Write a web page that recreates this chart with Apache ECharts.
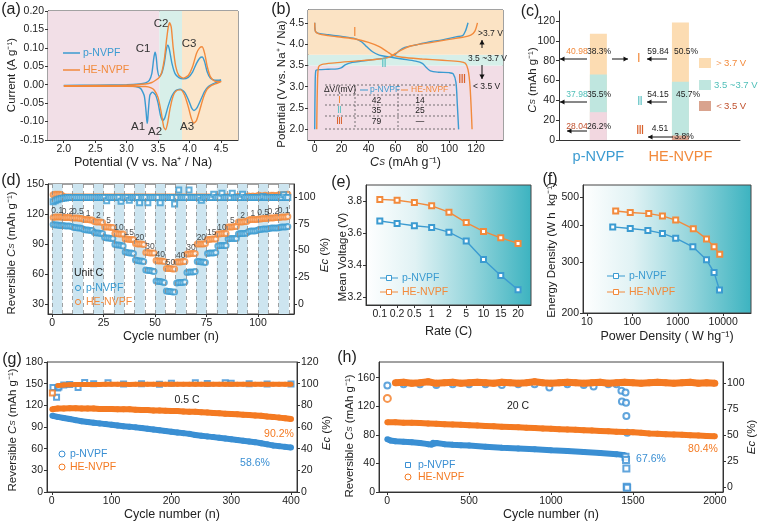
<!DOCTYPE html>
<html><head><meta charset="utf-8">
<script src="https://cdn.jsdelivr.net/npm/echarts@6/dist/echarts.min.js"></script>
<style>html,body{margin:0;padding:0;background:#fff}#c{width:760px;height:522px}</style>
</head><body><div id="c"></div>
<script>
// ================= DATA =================
// (a) cyclic voltammetry: [potential V, current A/g], anodic then cathodic branch
const cvP = [[2.00,-0.002],[2.50,-0.001],[3.00,0.000],[3.20,0.002],[3.30,0.005],[3.36,0.012],[3.40,0.030],[3.43,0.070],[3.45,0.088],[3.47,0.075],[3.49,0.040],[3.52,0.022],[3.56,0.032],[3.60,0.060],[3.63,0.095],[3.655,0.107],[3.68,0.095],[3.72,0.058],[3.77,0.030],[3.83,0.019],[3.90,0.016],[3.98,0.020],[4.05,0.035],[4.11,0.058],[4.16,0.072],[4.20,0.075],[4.24,0.062],[4.28,0.035],[4.33,0.018],[4.40,0.012],[4.50,0.013],
  [4.45,0.008],[4.38,0.003],[4.30,-0.005],[4.24,-0.018],[4.18,-0.040],[4.12,-0.062],[4.07,-0.070],[4.03,-0.062],[3.98,-0.040],[3.92,-0.020],[3.85,-0.012],[3.78,-0.016],[3.72,-0.030],[3.66,-0.058],[3.61,-0.088],[3.575,-0.097],[3.54,-0.085],[3.50,-0.050],[3.46,-0.028],[3.41,-0.020],[3.37,-0.028],[3.35,-0.060],[3.335,-0.095],[3.325,-0.105],[3.31,-0.075],[3.28,-0.030],[3.22,-0.010],[3.10,-0.004],[2.80,-0.003],[2.00,-0.003]];
const cvHE = [[2.00,-0.003],[2.50,-0.002],[3.00,-0.001],[3.30,0.002],[3.40,0.006],[3.46,0.012],[3.52,0.020],[3.56,0.035],[3.60,0.070],[3.63,0.115],[3.66,0.155],[3.685,0.168],[3.71,0.155],[3.74,0.100],[3.78,0.050],[3.83,0.025],[3.90,0.018],[3.98,0.025],[4.05,0.050],[4.11,0.085],[4.16,0.100],[4.20,0.103],[4.24,0.085],[4.28,0.050],[4.33,0.022],[4.40,0.010],[4.50,0.008],
  [4.42,0.003],[4.35,-0.002],[4.28,-0.012],[4.22,-0.035],[4.16,-0.070],[4.11,-0.097],[4.07,-0.104],[4.03,-0.092],[3.98,-0.060],[3.92,-0.028],[3.86,-0.014],[3.80,-0.015],[3.74,-0.030],[3.69,-0.065],[3.65,-0.105],[3.62,-0.122],[3.59,-0.115],[3.55,-0.075],[3.50,-0.035],[3.44,-0.015],[3.38,-0.008],[3.30,-0.005],[3.00,-0.004],[2.50,-0.004],[2.00,-0.004]];

// (b) charge / discharge profiles: [capacity mAh/g, potential V]
const bChgP = [[0,2.0],[0.3,3.0],[0.8,3.38],[3,3.40],[10,3.41],[17,3.42],[20,3.45],[23,3.52],[28,3.57],[35,3.60],[42,3.63],[50,3.66],[56,3.70],[60,3.76],[63,3.85],[67,3.92],[75,3.98],[85,4.05],[95,4.10],[105,4.17],[110,4.20],[112,4.30],[114,4.50]];
const bDisP = [[0,4.5],[0.5,4.30],[3,4.25],[10,4.22],[20,4.18],[30,4.13],[35,4.05],[39,3.93],[43,3.82],[48,3.74],[55,3.70],[65,3.65],[75,3.60],[80,3.55],[83,3.45],[86,3.37],[92,3.34],[100,3.33],[103,3.30],[105,3.10],[106,2.6],[107,2.0]];
const bChgHE = [[1.5,2.0],[2,3.0],[2.8,3.46],[5,3.52],[15,3.56],[30,3.60],[45,3.64],[55,3.69],[60,3.78],[65,3.87],[72,3.96],[85,4.03],[100,4.11],[110,4.16],[116,4.21],[119,4.30],[121,4.50]];
const bDisHE = [[0,4.5],[0.5,4.30],[3,4.24],[10,4.20],[20,4.16],[30,4.12],[40,4.04],[48,3.94],[54,3.82],[58,3.74],[65,3.69],[80,3.65],[95,3.62],[108,3.59],[112,3.55],[114,3.40],[115.5,3.0],[117,2.0]];
const bTableRows = [['Ⅰ','42','14'],['Ⅱ','35','25'],['Ⅲ','79','—']];

// (c) capacity contributions
const cSamples = ['p-NVPF','HE-NVPF'];
const cLow  = [28.04, 4.51];
const cMid  = [37.98, 54.15];
const cHigh = [40.98, 59.84];
const cPctLow  = ['26.2%','3.8%'];
const cPctMid  = ['35.5%','45.7%'];
const cPctHigh = ['38.3%','50.5%'];

// (d) rate capability (5 cycles per rate)
const dRates = ['0.1','0.2','0.5','1','2','5','10','15','20','30','40','50','40','30','20','15','10','5','2','1','0.5','0.2','0.1'];
const dCapP = [109.5,109,109,108.5,108.5, 108.5,108,108,108,107.5, 106.5,106.5,106,106,105.5, 104.5,104,104,103.5,103.5, 101.5,101,101,100.5,100.5,
  96.5,96,96,95.5,95.5, 89.5,89,89,88.5,88, 82,81.5,81,81,80.5, 74,73.5,73,73,72.5, 64,63.5,63.5,63,62.5, 53,52.5,52.5,52,51.5, 43,42.5,42.5,42,42,
  51,51.5,51.5,51.5,52, 61.5,62,62,62,62.5, 72.5,72.5,72,72,71.5, 80.5,81,81,81,81.5, 88,88.5,88.5,88.5,88.5, 95,95.5,95.5,95.5,95.5,
  100,100.5,100.5,100.5,101, 102.5,103,103,103,103.5, 104.5,104.5,105,105,105, 105.5,106,106,106,106, 106.5,107,107,107,107.5];
const dCapHE = [116.5,117,117,117,117, 116.5,116.5,116.5,116.5,116, 116,116,116,115.5,115.5, 114.5,114.5,114.5,114,114, 112.5,112,112,112,111.5,
  107,107,107,106.5,106.5, 100.5,100.5,100,100,100, 95,95,94.5,94.5,94.5, 90.5,90,90,90,89.5, 81.5,81.5,81,81,81, 73.5,73,73,73,72.5, 65.5,65.5,65.5,65,65,
  72,72,72,72.5,72.5, 80,80,80.5,80.5,80.5, 90,90,90,90,90.5, 94.5,94.5,95,95,95, 100,100,100.5,100.5,100.5, 107,107,107,107.5,107.5,
  112,112,112,112.5,112.5, 114,114.5,114.5,114.5,114.5, 115,115,115.5,115.5,115.5, 116,116,116,116.5,116.5, 116.5,117,117,117,117.5];
const dCeP = [95.5,96.5,97.5,98,98.5, 99,99,99.5,99.5,99.5, 99.5,99.5,99.5,99.5,99.5, 99.5,99.5,99.5,99.5,99.5, 99.5,99.5,99.5,99.5,99.5,
  99.5,96.5,99.5,99.5,99.5, 99.5,99.5,99.5,96,99.5, 99.5,99.5,97,99.5,99.5, 99.5,99.5,94.5,99.5,99.5, 99.5,94.5,99.5,99.5,99.5, 99.5,99.5,94.5,99.5,99.5, 99.5,99.5,99.5,99.5,93.5,
  99.5,106.5,99.5,99.5,99.5, 99.5,106.5,99.5,99.5,99.5, 99.5,99.5,97,99.5,99.5, 99.5,99.5,99.5,102.5,99.5, 99.5,99.5,103.5,99.5,99.5, 99.5,99.5,103.5,99.5,99.5,
  99.5,99.5,102.5,99.5,99.5, 99.5,99.5,99.5,99.5,99.5, 99.5,99.5,100.5,99.5,99.5, 99.5,99.5,99.5,99.5,99.5, 99.5,99.5,102,99.5,99.5];
const dCeHE = [102,102.5,102.5,102.5,102, 100.5,100,100,100,100, 100,100,100,100,100, 100,100,100,100,100, 100,100,100,100,100,
  100,100,100,100,100, 100,100,100,100,100, 100,100,100,100,100, 100,100,100,100,100, 100,100,100,100,100, 100,100,100,100,100, 100,100,100,100,100,
  100,100,100,100,100, 100,100,100,100,100, 100,100,100,100,100, 100,100,100,100,100, 100,100,100,100,100, 100,100,100,100,100,
  100.5,100,100,100.5,100, 101,100.5,101,100.5,101, 101.5,101,101,101.5,101, 101,101.5,101.5,101,101.5, 102,101.5,102,102,102.5];

// (e) mean voltage vs rate
const eRates = ['0.1','0.2','0.5','1','2','5','10','15','20'];
const eVP  = [3.675,3.660,3.645,3.635,3.605,3.550,3.435,3.335,3.245];
const eVHE = [3.810,3.805,3.790,3.770,3.730,3.665,3.610,3.570,3.535];

// (f) Ragone: power density (W/kg), energy density (Wh/kg)
const fPowP = [37,90,220,460,900,2150,4300,6300,8300];
const fEnP  = [396,391,385,376,362,338,305,276,240];
const fPowHE = [43,90,230,460,900,2200,4300,6300,8400];
const fEnHE  = [449,444,440,432,418,390,360,338,319];

// (g) long cycling at 0.5 C
const gCyc = [1,10,20,30,40,50,60,70,80,90,100,110,120,130,140,150,160,170,180,190,200,210,220,230,240,250,260,270,280,290,300,310,320,330,340,350,360,370,380,390,400];
const gCapHE = [114.5,115.5,115.5,116,116,115.5,115.5,115.5,115,115,115,114.5,114.5,114.5,114,113.5,113.5,113,113,112.5,112,112,111.5,111,111,110.5,110,109.5,109,108.5,108,107.5,107,106.5,106,105.5,104.5,104,103,102,101];
const gCapP = [105.5,104,102.5,101,99.5,98,97,96,95,94,93,92,91,90.5,89.5,88.5,87.5,86.5,85.5,84.5,83.5,82.5,81.5,80.5,79,78,77,76,75,74,73,72,71,70,69,67.5,66,64.5,63.5,62.5,61.5];
const gCeHE = [91.5,98.2,98.8,99,99.2,99.2,99.3,99.3,99.3,99.4,99.4,99.4,99.4,99.3,99.4,99.4,99.4,99.5,99.4,99.4,99.5,99.4,99.4,99.5,99.5,99.4,99.4,99.5,99.5,99.4,99.5,99.5,99.4,99.5,99.5,99.5,99.4,99.5,99.5,99.5,99.5];
const gCeP = [[2,96.5],[8,87.5],[10,96],[12,97],[20,98.8],[30,99.2],[44,96.5],[55,101],[70,100],[94,100.8],[120,99.8],[150,100],[180,99.5],[200,100.3],[240,100.8],[260,100.2],[290,100.8],[300,100.5],[330,100],[360,99.6],[400,99.8]];

// (h) long cycling at 20 C
const hCyc = [1,50,100,150,200,250,300,350,400,450,500,550,600,650,700,750,800,850,900,950,1000,1050,1100,1150,1200,1250,1300,1350,1400,1450,1500,1550,1600,1650,1700,1750,1800,1850,1900,1950,2000];
const hCapHE = [97.5,97.5,97,97,96.5,96,95.5,95,94.5,94,93.5,93,92.5,92,91.5,91,90.5,90,89.5,89,88.5,88,87.5,87,86.5,86,85.5,85,84.5,84,83.5,83,82,81.5,81,80.5,80,79.5,79,78.5,78];
const hCeHE = [85,100,100.5,99.5,100,101,99.5,100,100.5,99.5, 100,100.5,100,99.5,100.5,100,99.5,100,101,100, 99.5,100,100.5,100,99.5,100,100.5,99.5,100,100.5, 100,99.5,100,100.5,100,99.5,100,100.5,99.5,100, 99.5];
const hCapP = [[1,74],[20,72],[50,71],[100,70.5],[150,69.5],[200,68.5],[250,67],[270,66.5],[280,69],[300,68.5],[350,67],[400,66],[450,65.5],[500,65],[600,63.5],[700,62],[800,61],[900,60],[1000,58.5],[1100,57.5],[1200,56],[1300,54.5],[1400,53],[1450,51.5]];
const hCapPFail = [[1455,49.5],[1458,44.8],[1460,33],[1462,7.4],[1465,6]];
const hCeP = [[1,97.5],[100,98.5],[200,98.5],[300,98],[400,98.5],[500,98.5],[600,98.5],[700,98],[800,98.5],[900,98.5],[990,95.5],[1100,98.5],[1200,98],[1260,96.5],[1350,98.5],[1400,98.5],[1430,92.3],[1433,82],[1455,90.7],[1458,80.8],[1460,68],[1465,52]];

// ================= STYLE =================
const F = '"Liberation Sans Narrow", "Liberation Sans", Arial, sans-serif';
const FR = '"Liberation Sans", Arial, sans-serif';
const BLUE = '#3b9bd1', ORANGE = '#f28a3c', BLUE2 = '#3a8fd3', ORANGE2 = '#f47a22';
const CYANT = '#4fbfb8', BROWN = '#c0502d';

function merge(a,b){ const o=Object.assign({},a); for(const k in b){ if(b[k]&&typeof b[k]==='object'&&!Array.isArray(b[k])&&a[k]&&typeof a[k]==='object') o[k]=merge(a[k],b[k]); else o[k]=b[k]; } return o; }
function axis(grid, extra){
  return merge({
    gridIndex:grid, type:'value',
    axisLine:{show:true,onZero:false,lineStyle:{color:'#333',width:1}},
    axisTick:{show:true,inside:false,length:3,lineStyle:{color:'#333'}},
    axisLabel:{fontSize:10.5,color:'#222',fontFamily:F,margin:4},
    splitLine:{show:false},
    nameLocation:'middle',
    nameTextStyle:{fontSize:12.5,color:'#222',fontFamily:F}
  }, extra);
}
const plain = v=>String(v);
function ticks(vals, fmt){ return {axisLabel:{customValues:vals, formatter:fmt||plain}, axisTick:{customValues:vals}}; }
const GRAD = {type:'linear',x:0,y:0,x2:1,y2:0,colorStops:[{offset:0,color:'#ffffff'},{offset:0.3,color:'#e0f2f4'},{offset:0.65,color:'#92d4db'},{offset:1,color:'#3cb3c0'}]};

const grids = [
  {left:48, top:11, width:190, height:129},
  {left:308, top:10, width:195, height:130},
  {left:559, top:11, width:181, height:129, show:false},
  {left:48, top:184, width:246, height:130},
  {left:366, top:185, width:165, height:120, backgroundColor:GRAD},
  {left:583, top:185, width:168, height:128, backgroundColor:GRAD},
  {left:47, top:362, width:250, height:130},
  {left:379, top:362, width:344, height:130}
].map(g=>Object.assign({show:true,borderColor:'#444',borderWidth:1}, g));

const xAxes = [
  axis(0, merge({min:1.75,max:4.77,name:'Potential (V vs. Na⁺ / Na)',nameGap:14}, ticks([2,2.5,3,3.5,4,4.5], v=>v.toFixed(1)))),
  axis(1, merge({min:-5,max:140,name:'{i|C}{s|S} (mAh g⁻¹)',nameGap:14,nameTextStyle:{rich:{i:{fontStyle:'italic',fontSize:12.5,fontFamily:F,color:'#222'},s:{fontStyle:'italic',fontSize:8.5,fontFamily:F,color:'#222'}}}}, ticks([0,20,40,60,80,100,120]))),
  axis(2, merge({min:-0.48,max:1.726,axisTick:{show:false}}, {axisLabel:{customValues:[0,1],margin:9,formatter:v=>v<0.5?'{p|'+cSamples[0]+'}':'{h|'+cSamples[1]+'}',rich:{p:{color:BLUE,fontSize:14.5,fontFamily:F},h:{color:ORANGE,fontSize:14.5,fontFamily:F}}}})),
  axis(3, merge({min:-2,max:117.5,name:'Cycle number (n)',nameGap:13}, ticks([0,25,50,75,100]))),
  axis(4, merge({min:-0.8,max:8.75,name:'Rate (C)',nameGap:20}, ticks([0,1,2,3,4,5,6,7,8], v=>eRates[Math.round(v)]))),
  axis(5, merge({type:'log',logBase:10,min:8.2,max:41000,name:'Power Density ( W hg⁻¹)',nameGap:17}, ticks([10,100,1000,10000]))),
  axis(6, merge({min:-8,max:410,name:'Cycle number (n)',nameGap:13}, ticks([0,100,200,300,400]))),
  axis(7, merge({min:-50,max:2050,name:'Cycle number (n)',nameGap:13}, ticks([0,500,1000,1500,2000])))
];
const yAxes = [
  axis(0, merge({min:-0.15,max:0.2}, ticks([-0.15,-0.1,-0.05,0,0.05,0.1,0.15,0.2], v=>v.toFixed(2)))),
  axis(1, merge({min:1.75,max:4.8}, ticks([2,2.5,3,3.5,4,4.5], v=>v.toFixed(1)))),
  axis(2, merge({min:0,max:130}, ticks([0,20,40,60,80,100,120]))),
  axis(3, merge({min:20,max:150}, ticks([30,60,90,120,150]))),
  axis(3, merge({min:-9.3,max:112.1,position:'right'}, ticks([0,25,50,75,100]))),
  axis(4, merge({min:3.15,max:3.9}, ticks([3.2,3.4,3.6,3.8], v=>v.toFixed(1)))),
  axis(5, merge({type:'log',logBase:10,min:200,max:552}, ticks([200,300,400,500]))),
  axis(6, merge({min:0,max:180}, ticks([0,30,60,90,120,150,180]))),
  axis(6, merge({min:0,max:120,position:'right'}, ticks([0,20,40,60,80,100,120]))),
  axis(7, merge({min:0,max:182}, ticks([0,40,80,120,160]))),
  axis(7, merge({min:-5,max:120,position:'right'}, ticks([0,25,50,75,100])))
];

// ================= SERIES =================
const S = [];
const line = (xi, yi, name, data, color, extra) => S.push(merge({type:'line',name,xAxisIndex:xi,yAxisIndex:yi,data,showSymbol:false,symbol:'none',lineStyle:{color,width:1.4},itemStyle:{color},animation:false,z:3}, extra||{}));

// (a)
line(0,0,'p-NVPF',cvP,BLUE,{smooth:0.2, markArea:{silent:true, data:[
  [{xAxis:1.75,itemStyle:{color:'#f2dfe7'}},{xAxis:3.52}],
  [{xAxis:3.52,itemStyle:{color:'#d8efe9'}},{xAxis:3.88}],
  [{xAxis:3.88,itemStyle:{color:'#fbe6cb'}},{xAxis:4.77}]]}});
line(0,0,'HE-NVPF',cvHE,ORANGE,{smooth:0.2});

// (b)
line(1,1,'p-NVPF',bChgP,BLUE,{smooth:0.3, markArea:{silent:true, data:[
  [{yAxis:1.75,itemStyle:{color:'#f2dde6'}},{yAxis:3.5}],
  [{yAxis:3.5,itemStyle:{color:'#d6efe9'}},{yAxis:3.75}],
  [{yAxis:3.75,itemStyle:{color:'#fbe3c4'}},{yAxis:4.8}]]}});
line(1,1,'p-NVPF',bDisP,BLUE,{smooth:0.3});
line(1,1,'HE-NVPF',bChgHE,ORANGE,{smooth:0.3});
line(1,1,'HE-NVPF',bDisHE,ORANGE,{smooth:0.3});

// (c) stacked bars (drawn as overlapping cumulative bars)
const cCols = {low:['#f2d7e0','#d9a38e'], mid:'#bfe6df', high:'#fcdcb2'};
const cTop = cLow.map((v,i)=>v+cMid[i]+cHigh[i]);
const cMidTop = cLow.map((v,i)=>v+cMid[i]);
const cbar = (name,data,extra)=>S.push(merge({type:'bar',name,xAxisIndex:2,yAxisIndex:2,barWidth:17,barGap:'-100%',data,z:2},extra||{}));
cbar('>3.7 V', cTop.map((v,i)=>[i,v]), {itemStyle:{color:cCols.high}});
cbar('3.5~3.7 V', cMidTop.map((v,i)=>[i,v]), {itemStyle:{color:cCols.mid}});
cbar('<3.5 V', cLow.map((v,i)=>({value:[i,v],itemStyle:{color:cCols.low[i]}})));

// (d)
const dBands = dRates.map((r,i)=> i%2===0 ? [{xAxis:5*i},{xAxis:5*i+5}] : null).filter(Boolean);
const dLines = dRates.map((r,i)=>({xAxis:5*i})).concat([{xAxis:5*dRates.length}]);
S.push({type:'scatter',name:'p-NVPF',xAxisIndex:3,yAxisIndex:3,symbol:'emptyCircle',symbolSize:5,itemStyle:{color:BLUE,borderWidth:1},
  data:dCapP.map((v,i)=>[i+0.5,v]), z:3,
  markArea:{silent:true,itemStyle:{color:'#cde5f0'},data:dBands},
  markLine:{silent:true,symbol:'none',label:{show:false},lineStyle:{type:[4,3],color:'#8a8a8a',width:0.8},data:dLines}});
S.push({type:'scatter',name:'HE-NVPF',xAxisIndex:3,yAxisIndex:3,symbol:'emptyCircle',symbolSize:5,itemStyle:{color:ORANGE,borderWidth:1},data:dCapHE.map((v,i)=>[i+0.5,v]),z:3});
S.push({type:'scatter',name:'HE-NVPF',xAxisIndex:3,yAxisIndex:4,symbol:'emptyCircle',symbolSize:5,itemStyle:{color:ORANGE,borderWidth:1},data:dCeHE.map((v,i)=>[i+0.5,v]),z:3});
S.push({type:'scatter',name:'p-NVPF',xAxisIndex:3,yAxisIndex:4,symbol:'emptyRect',symbolSize:5,itemStyle:{color:BLUE,borderWidth:1},data:dCeP.map((v,i)=>[i+0.5,v]),z:4});
S.push({type:'scatter',name:'rate',xAxisIndex:3,yAxisIndex:3,symbolSize:0,silent:true,z:5,
  data:dRates.map((r,i)=>[5*i+2.5, Math.max(...dCapHE.slice(5*i,5*i+5))+6, r]),
  label:{show:true,position:'inside',formatter:p=>p.value[2],fontSize:8.5,color:'#222',fontFamily:F}});

// (e)
const sq = (color)=>({symbol:'emptyRect',symbolSize:5,showSymbol:true,itemStyle:{color,borderWidth:1}});
line(4,5,'p-NVPF',eVP.map((v,i)=>[i,v]),BLUE,sq(BLUE));
line(4,5,'HE-NVPF',eVHE.map((v,i)=>[i,v]),ORANGE,sq(ORANGE));
// (f)
line(5,6,'p-NVPF',fPowP.map((p,i)=>[p,fEnP[i]]),BLUE,sq(BLUE));
line(5,6,'HE-NVPF',fPowHE.map((p,i)=>[p,fEnHE[i]]),ORANGE,sq(ORANGE));

// (g)
const band = (w,color)=>({showSymbol:true,symbol:'circle',symbolSize:w,itemStyle:{color},lineStyle:{width:w,color}});
line(6,7,'HE-NVPF',gCyc.map((c,i)=>[c,gCapHE[i]]),ORANGE2,band(6,ORANGE2));
line(6,7,'p-NVPF',gCyc.map((c,i)=>[c,gCapP[i]]),BLUE2,band(6,BLUE2));
S.push({type:'scatter',name:'p-NVPF',xAxisIndex:6,yAxisIndex:8,symbol:'emptyRect',symbolSize:5,itemStyle:{color:BLUE2,borderWidth:1},data:gCeP,z:2});
line(6,8,'HE-NVPF',gCyc.map((c,i)=>[c,gCeHE[i]]).slice(1),ORANGE2,band(5,ORANGE2));
S.push({type:'scatter',name:'HE-NVPF',xAxisIndex:6,yAxisIndex:8,symbol:'emptyRect',symbolSize:5,itemStyle:{color:ORANGE2,borderWidth:1},data:[[gCyc[0],gCeHE[0]]],z:4});
// (h)
line(7,9,'HE-NVPF',hCyc.map((c,i)=>[c,hCapHE[i]]),ORANGE2,band(6,ORANGE2));
line(7,9,'p-NVPF',hCapP,BLUE2,band(6,BLUE2));
S.push({type:'scatter',name:'p-NVPF',xAxisIndex:7,yAxisIndex:9,symbol:'emptyRect',symbolSize:6,itemStyle:{color:BLUE2,borderWidth:1.2},data:hCapPFail,z:4});
S.push({type:'scatter',name:'p-NVPF',xAxisIndex:7,yAxisIndex:10,symbol:'emptyCircle',symbolSize:6,itemStyle:{color:BLUE2,borderWidth:1.1},data:hCeP,z:2});
line(7,10,'HE-NVPF',hCyc.map((c,i)=>[c,hCeHE[i]]).slice(1),ORANGE2,band(7,ORANGE2));
S.push({type:'scatter',name:'HE-NVPF',xAxisIndex:7,yAxisIndex:10,symbol:'emptyCircle',symbolSize:7,itemStyle:{color:ORANGE2,borderWidth:1.2},data:[[hCyc[0],hCeHE[0]]],z:4});

// ================= GRAPHIC (axis titles, annotations, legends) =================
const G = [];
const T = (x,y,text,o)=>{o=o||{}; G.push({type:'text',x,y,z:100,silent:true,style:{text,fill:o.c||'#222',fontSize:o.s||11,fontFamily:o.f||F,fontStyle:o.it?'italic':'normal',fontWeight:o.b?'bold':'normal',align:o.a||'center',verticalAlign:o.v||'middle'}});};
const YS = 11.5;
const RICHN = {i:{fontStyle:'italic',fontSize:YS,fontFamily:F,fill:'#222'}, s:{fontStyle:'italic',fontSize:8,fontFamily:F,fill:'#222'}, n:{fontSize:YS,fontFamily:F,fill:'#222'}};
const YN = (x,y,text)=>G.push({type:'text',x,y,rotation:Math.PI/2,z:100,silent:true,style:{text,rich:RICHN,fontSize:YS,fontFamily:F,fill:'#222',align:'center',verticalAlign:'middle'}});
const L = (x1,y1,x2,y2,o)=>{o=o||{}; G.push({type:'line',z:100,silent:true,shape:{x1,y1,x2,y2},style:{stroke:o.c||'#222',lineWidth:o.w||1,lineDash:o.d||null}});};
const ARROW = (x1,y1,x2,y2,c)=>{c=c||'#111'; L(x1,y1,x2,y2,{c,w:1}); const a=Math.atan2(y2-y1,x2-x1), h=4.5, w=2.6;
  G.push({type:'polygon',z:100,silent:true,shape:{points:[[x2,y2],[x2-h*Math.cos(a)+w*Math.sin(a),y2-h*Math.sin(a)-w*Math.cos(a)],[x2-h*Math.cos(a)-w*Math.sin(a),y2-h*Math.sin(a)+w*Math.cos(a)]]},style:{fill:c}});};
const R = (x,y,w,h,fill)=>G.push({type:'rect',z:100,silent:true,shape:{x,y,width:w,height:h},style:{fill}});
const C = (cx,cy,r,stroke,lw)=>G.push({type:'circle',z:100,silent:true,shape:{cx,cy,r},style:{fill:'rgba(0,0,0,0)',stroke,lineWidth:lw||1}});
const SQ = (cx,cy,r,stroke)=>G.push({type:'rect',z:101,silent:true,shape:{x:cx-r,y:cy-r,width:2*r,height:2*r},style:{fill:'#fff',stroke,lineWidth:1}});

// y-axis titles
YN(12,75,'Current (A g⁻¹)');
YN(282,84,'Potential (V vs. Na⁺ / Na)');
YN(533,80,'{i|C}{s|S}{n| (mAh g⁻¹)}');
YN(12,253,'{n|Reversible }{i|C}{s|S}{n| (mAh g⁻¹)}');
YN(325,255,'{i|Ec}{n| (%)}');
YN(343,257,'Mean Voltage (V)');
YN(552,250,'Energy Density (W h  kg⁻¹)');
YN(13,430,'{n|Reversible }{i|C}{s|S}{n| (mAh g⁻¹)}');
YN(327,433,'{i|Ec}{n| (%)}');
YN(350,436,'{n|Reversible }{i|C}{s|S}{n| (mAh g⁻¹)}');
YN(752,437,'{i|Ec}{n| (%)}');

// panel letters
[['(a)',11,10],['(b)',281,10],['(c)',530,12],['(d)',11,181],['(e)',341,183],['(f)',550,180],['(g)',12,360],['(h)',347,358]].forEach(p=>T(p[1],p[2],p[0],{s:16,f:FR}));

// (a) labels & legend
[['C1',143,49],['C2',161,24],['C3',189,44],['A1',138,127],['A2',155,132],['A3',187,127]].forEach(p=>T(p[1],p[2],p[0],{s:11.5,c:'#333'}));
L(63,53,80,53,{c:BLUE,w:1.5}); T(83,53,'p-NVPF',{c:BLUE,s:10.5,a:'left'});
L(63,70,80,70,{c:ORANGE,w:1.5}); T(83,70,'HE-NVPF',{c:ORANGE,s:10.5,a:'left'});

// (b) annotations
T(355,33,'Ⅰ',{c:ORANGE,s:12,f:FR}); T(384,64,'Ⅱ',{c:'#62c3c5',s:12,f:FR}); T(462,80,'Ⅲ',{c:'#d9602a',s:12,f:FR});
T(478,34,'>3.7 V',{s:8.5,a:'left'}); ARROW(482,48,482,40); T(468,59,'3.5 ~3.7 V',{s:8.5,a:'left'}); ARROW(482,65,482,79); T(473,87,'< 3.5 V',{s:8.5,a:'left'});
[85,95,105,116,129].forEach(y=>L(325,y,457,y,{c:'#555',w:0.8,d:[2,2]}));
[355,398].forEach(x=>L(x,85,x,129,{c:'#555',w:0.8,d:[2,2]}));
T(340,90,'ΔV/(mV)',{s:8.5}); L(360,90,368,90,{c:BLUE}); T(370,90,'p-NVPF',{s:8.5,c:BLUE,a:'left'});
L(401,90,408,90,{c:ORANGE}); T(411,90,'HE-NVPF',{s:8.5,c:ORANGE,a:'left'});
const rowCols = [ORANGE,'#62c3c5','#d9602a'];
bTableRows.forEach((r,i)=>{const y=[100.5,110.7,121.5][i]; T(339,y,r[0],{s:10,c:rowCols[i],f:FR}); T(376.5,y,r[1],{s:8.5}); T(420,y,r[2],{s:8.5});});

// (c) annotations
const cTxtY=[52,95,127], cArrY=[59,102,131];
T(577,cTxtY[0],cHigh[0].toFixed(2),{s:8.5,c:ORANGE}); T(599,cTxtY[0],cPctHigh[0],{s:8.5});
T(577,cTxtY[1],cMid[0].toFixed(2),{s:8.5,c:CYANT}); T(599,cTxtY[1],cPctMid[0],{s:8.5});
T(577,cTxtY[2],cLow[0].toFixed(2),{s:8.5,c:BROWN}); T(599,cTxtY[2],cPctLow[0],{s:8.5});
T(658,cTxtY[0],cHigh[1].toFixed(2),{s:8.5}); T(686,cTxtY[0],cPctHigh[1],{s:8.5});
T(658,cTxtY[1],cMid[1].toFixed(2),{s:8.5}); T(688,cTxtY[1],cPctMid[1],{s:8.5});
T(660,129,cLow[1].toFixed(2),{s:8.5}); T(684,137,cPctLow[1],{s:8.5});
ARROW(587,cArrY[0],560,cArrY[0]); ARROW(612,cArrY[0],628,cArrY[0]); ARROW(667,cArrY[0],647,cArrY[0]);
ARROW(587,cArrY[1],560,cArrY[1]); ARROW(667,cArrY[1],647,cArrY[1]);
ARROW(587,cArrY[2],567,cArrY[2]); ARROW(673,137,648,137);
T(639,59,'Ⅰ',{c:ORANGE,s:12,f:FR}); T(640,102,'Ⅱ',{c:'#62c3c5',s:12,f:FR}); T(640,131,'Ⅲ',{c:'#d9602a',s:12,f:FR});
R(699,58,12,10,cCols.high); T(714,63,'＞3.7 V',{s:9.5,c:ORANGE,a:'left'});
R(699,80,12,10,cCols.mid); T(714,85,'3.5 ~3.7 V',{s:9.5,c:CYANT,a:'left'});
R(699,101,12,10,cCols.low[1]); T(714,106,'＜3.5 V',{s:9.5,c:BROWN,a:'left'});

// (d) legend
T(74,273,'Unit C',{s:10.5,a:'left'});
C(78,288,2.6,BLUE); T(86,288,'p-NVPF',{s:10.5,c:BLUE,a:'left'});
C(78,302,2.6,ORANGE); T(86,302,'HE-NVPF',{s:10.5,c:ORANGE,a:'left'});
// (e) legend
L(380,278,398,278,{c:BLUE}); SQ(389,278,2.5,BLUE); T(402,278,'p-NVPF',{s:10.5,c:BLUE,a:'left'});
L(380,292,398,292,{c:ORANGE}); SQ(389,292,2.5,ORANGE); T(402,292,'HE-NVPF',{s:10.5,c:ORANGE,a:'left'});
// (f) legend
L(607,276,625,276,{c:BLUE}); SQ(616,276,2.5,BLUE); T(629,276,'p-NVPF',{s:10.5,c:BLUE,a:'left'});
L(607,292,625,292,{c:ORANGE}); SQ(616,292,2.5,ORANGE); T(629,292,'HE-NVPF',{s:10.5,c:ORANGE,a:'left'});
// (g)
T(187,400,'0.5 C',{s:10.5}); T(279,434,'90.2%',{s:10.5,c:ORANGE2}); T(255,463,'58.6%',{s:10.5,c:BLUE2});
C(62,454,3,BLUE2); T(70,454,'p-NVPF',{s:10.5,c:BLUE2,a:'left'});
C(62,467,3,ORANGE2); T(70,467,'HE-NVPF',{s:10.5,c:ORANGE2,a:'left'});
// (h)
T(518,406,'20 C',{s:10.5}); T(651,459,'67.6%',{s:10.5,c:BLUE2}); T(703,449,'80.4%',{s:10.5,c:ORANGE2});
SQ(408,465,2.5,BLUE2); T(418,465,'p-NVPF',{s:10.5,c:BLUE2,a:'left'});
C(408,477,3,ORANGE2); T(418,477,'HE-NVPF',{s:10.5,c:ORANGE2,a:'left'});

const chart = echarts.init(document.getElementById('c'), null, {renderer:'canvas'});
chart.setOption({animation:false, backgroundColor:'#fff', textStyle:{fontFamily:F}, grid:grids, xAxis:xAxes, yAxis:yAxes, series:S, graphic:{elements:G}});
</script></body></html>
